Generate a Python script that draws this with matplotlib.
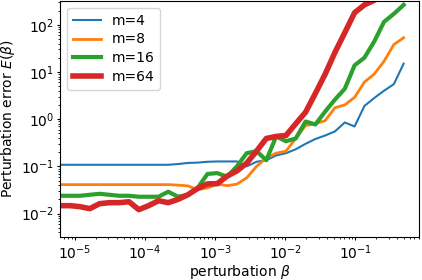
import numpy as np
import matplotlib
matplotlib.use('Agg')
import matplotlib.pyplot as plt

plt.rcParams['font.size'] = 10
plt.rcParams['xtick.major.size'] = 2.5
plt.rcParams['ytick.major.size'] = 2.5
plt.rcParams['xtick.minor.size'] = 1.5
plt.rcParams['ytick.minor.size'] = 1.5
plt.rcParams['xtick.major.pad'] = 2
plt.rcParams['ytick.major.pad'] = 2
plt.rcParams['xtick.minor.pad'] = 2
plt.rcParams['ytick.minor.pad'] = 2

# perturbation grid (log spaced)
beta = np.logspace(-5.21, -0.31, 36)

err_m4 = [0.108, 0.108, 0.108, 0.108, 0.108, 0.108, 0.108, 0.108, 0.108,
          0.108, 0.108, 0.108, 0.112, 0.118, 0.12, 0.125, 0.127, 0.127,
          0.127, 0.10, 0.125, 0.135, 0.17, 0.19, 0.23, 0.30, 0.38, 0.45,
          0.55, 0.85, 0.70, 1.9, 2.8, 4.0, 5.5, 15.0]
err_m8 = [0.041, 0.041, 0.041, 0.041, 0.041, 0.041, 0.041, 0.041, 0.041,
          0.041, 0.041, 0.041, 0.040, 0.0386, 0.032, 0.035, 0.042, 0.039,
          0.042, 0.057, 0.10, 0.15, 0.19, 0.21, 0.39, 0.73, 0.80, 0.93,
          1.75, 2.0, 2.9, 6.1, 9.0, 16.8, 38.0, 53.0]
err_m16 = [0.0238, 0.0238, 0.0238, 0.025, 0.0262, 0.025, 0.0238, 0.0238,
           0.0227, 0.0227, 0.0227, 0.029, 0.0227, 0.025, 0.035, 0.069,
           0.072, 0.060, 0.10, 0.19, 0.21, 0.135, 0.43, 0.34, 0.39, 0.89,
           0.77, 1.45, 2.6, 4.4, 13.8, 20.0, 44.0, 115.0, 170.0, 263.0]
err_m64 = [0.0147, 0.0147, 0.014, 0.0127, 0.0162, 0.017, 0.017, 0.0178,
           0.0121, 0.0147, 0.0187, 0.017, 0.020, 0.025, 0.034, 0.0425,
           0.043, 0.062, 0.08, 0.117, 0.21, 0.39, 0.43, 0.45, 0.80, 1.4,
           3.5, 9.0, 26.0, 68.0, 180.0, 263.0, 330.0, 420.0, 550.0, 700.0]

series = [('m=4', err_m4, 1.5), ('m=8', err_m8, 2.0),
          ('m=16', err_m16, 3.0), ('m=64', err_m64, 4.0)]

fig = plt.figure(figsize=(4.22, 2.8), dpi=100)
ax = fig.add_axes([0.143, 0.153, 0.850, 0.843])

for i, (lab, vals, lw) in enumerate(series):
    ax.plot(beta, vals, color='C' + str(i), linewidth=lw, label=lab)

ax.set_xscale('log')
ax.set_yscale('log')
ax.set_xlim(10 ** -5.21, 10 ** -0.09)
ax.set_ylim(10 ** -2.5, 10 ** 2.5)
ax.set_xlabel(r'perturbation $\beta$', labelpad=1)
ax.set_ylabel(r'Perturbation error $E(\beta)$', labelpad=3)
ax.legend(loc='upper left', labelspacing=0.35)

fig.savefig('out.png', dpi=100)
